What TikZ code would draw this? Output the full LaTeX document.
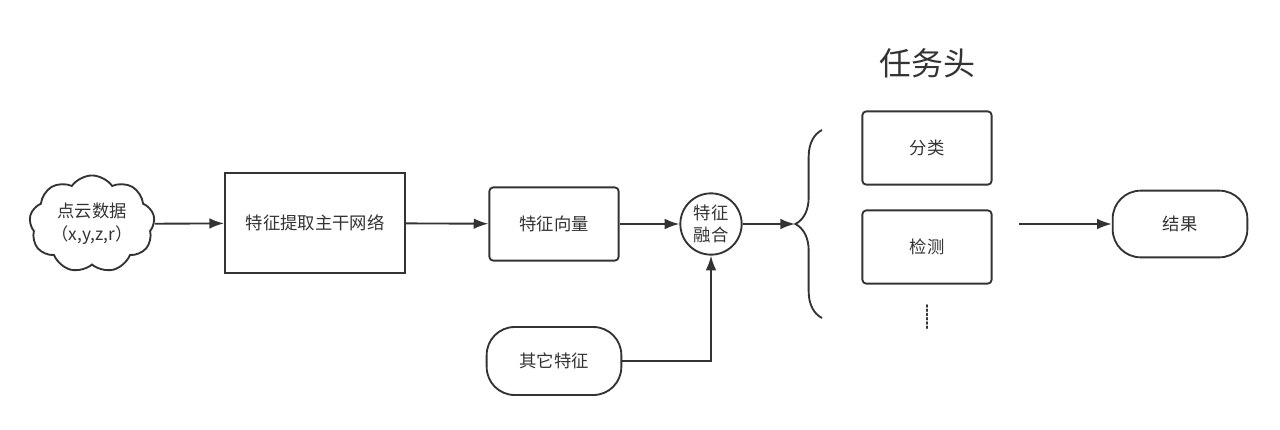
\documentclass[tikz,border=0pt]{standalone}
\usepackage{fontspec}
\newfontfamily\cjk{Noto Sans CJK SC}
\usepackage{tikz}
\usetikzlibrary{shapes.symbols,arrows.meta,positioning,decorations.pathreplacing}
\definecolor{inkgray}{HTML}{333333}
\tikzset
{
    basenode/.style  = {draw=inkgray, line width=1.4pt, text=inkgray, align=center, inner sep=0pt, font=\cjk\fontsize{13}{17}\selectfont},
    cloudnode/.style = {basenode, cloud, cloud puffs=9, cloud puff arc=110, aspect=1.4, minimum width=94pt, minimum height=66pt},
    blocknode/.style = {basenode, rectangle, minimum width=135pt, minimum height=75pt},
    headnode/.style  = {basenode, rectangle, rounded corners=3pt, minimum width=97pt, minimum height=55pt},
    pillnode/.style  = {basenode, rectangle, rounded corners=21pt, minimum width=101pt, minimum height=51pt},
    fusenode/.style  = {basenode, circle, minimum size=46pt}
}

\begin{document}
\begin{tikzpicture}[x=0.75pt, y=-0.75pt, ->, >={Latex[length=11pt,width=8pt]}, line width=1.4pt, draw=inkgray]
    \useasboundingbox (0,0) rectangle (1280,429);
    % main chain
    \node [cloudnode] (points) at (92,224) {点云数据\\（x,y,z,r）};
    \node [blocknode] (backbone) at (315,223) {特征提取主干网络};
    \node [headnode] (featvec) at (554,224) {特征向量};
    \node [fusenode] (fusion) at (711,224) {特征\\融合};
    \node [pillnode] (other) at (554,361) {其它特征};
    % task heads
    \node [text=inkgray, font=\cjk\fontsize{24}{28}\selectfont] (title) at (927,63) {任务头};
    \node [headnode] (cls) at (927,148) {分类};
    \node [headnode] (det) at (927,247) {检测};
    \node [pillnode, minimum height=50pt] (result) at (1180,224) {结果};
    \coordinate (bracetop) at (822,130);
    \coordinate (bracebot) at (822,318);
    \coordinate (bracetip) at (795,224);
    \coordinate (headsout) at (1019,224);
    \draw [-, decorate, decoration={brace, amplitude=20pt}] (bracebot) -- (bracetop);
    \draw [-, line cap=round, dash pattern=on 1.4pt off 1.8pt] (927,305) -- (927,330);

    \draw (points) -- (backbone);
    \draw (backbone) -- (featvec);
    \draw (featvec) -- (fusion);
    \draw (other.east) -| (fusion.south);
    \draw (fusion) -- (bracetip);
    \draw (headsout) -- (result);
\end{tikzpicture}
\end{document}
